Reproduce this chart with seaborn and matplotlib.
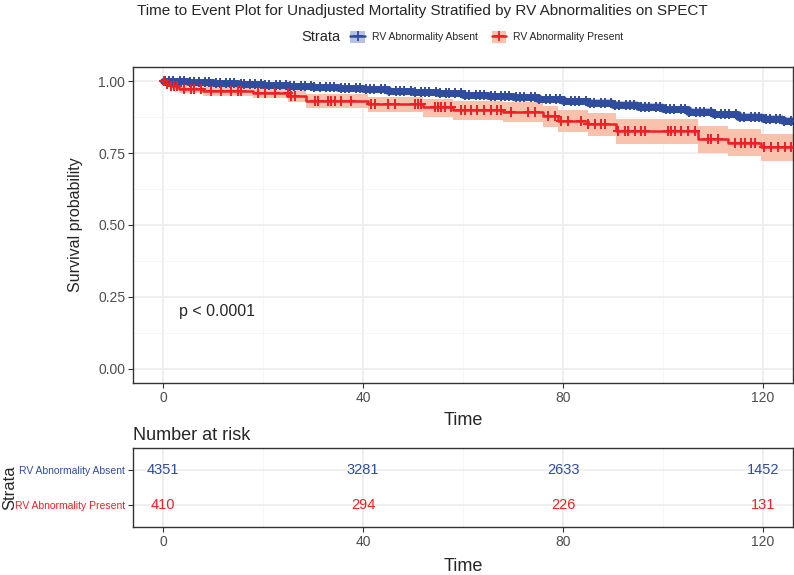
import numpy as np
import pandas as pd
import seaborn as sns
import matplotlib.pyplot as plt
from matplotlib.patches import Patch
from matplotlib.lines import Line2D
from matplotlib.ticker import MultipleLocator

# strata
groups = ['RV Abnormality Absent', 'RV Abnormality Present']
line_cols = ['#2F4C9E', '#EE1F25']
fill_cols = ['#B9C1E3', '#F9C2AC']

# RV abnormality absent: KM steps, 95% CI, censor times
absent_time = [0, 5, 10, 15, 20, 25, 30, 35, 40, 45, 50, 55, 60, 65, 70, 75,
               80, 85, 90, 95, 100, 105, 110, 115, 120, 124, 126]
absent_surv = [1.000, 0.996, 0.993, 0.990, 0.986, 0.983, 0.980, 0.976, 0.972,
               0.968, 0.963, 0.958, 0.954, 0.949, 0.944, 0.938, 0.933, 0.926,
               0.919, 0.911, 0.903, 0.894, 0.885, 0.876, 0.868, 0.863, 0.863]
absent_low = [1.000, 0.994, 0.990, 0.987, 0.982, 0.978, 0.975, 0.970, 0.966,
              0.961, 0.956, 0.950, 0.946, 0.940, 0.935, 0.928, 0.923, 0.915,
              0.908, 0.899, 0.891, 0.881, 0.872, 0.862, 0.854, 0.849, 0.849]
absent_high = [1.000, 0.998, 0.996, 0.993, 0.990, 0.988, 0.985, 0.982, 0.978,
               0.975, 0.970, 0.966, 0.962, 0.958, 0.953, 0.948, 0.943, 0.937,
               0.930, 0.923, 0.915, 0.907, 0.898, 0.890, 0.882, 0.877, 0.877]
absent_cens = [0.4, 1.3, 2.1, 3.4, 4.2, 5.5, 6.3, 7.1, 8.4, 9.2, 10.5, 11.3,
               12.6, 13.4, 14.1, 15.5, 16.2, 17.4, 18.3, 19.6, 20.4, 21.2,
               22.5, 23.3, 24.6, 25.4, 26.1, 27.5, 28.3, 29.6, 30.2, 31.4,
               32.5, 33.3, 34.1, 35.6, 36.4, 37.2, 38.5, 39.3, 40.6, 41.4,
               42.2, 43.5, 44.3, 45.1, 46.6, 47.4, 48.2, 49.5, 50.3, 51.6,
               52.4, 53.1, 54.5, 55.3, 56.6, 57.2, 58.4, 59.5, 60.3, 61.1,
               62.6, 63.4, 64.2, 65.5, 66.3, 67.6, 68.4, 69.2, 70.5, 71.3,
               72.1, 73.6, 74.4, 75.2, 76.5, 77.3, 78.6, 79.4, 80.2, 81.5,
               82.3, 83.1, 84.6, 85.4, 86.2, 87.5, 88.3, 89.6, 90.4, 91.2,
               92.5, 93.3, 94.1, 95.6, 96.4, 97.2, 98.5, 99.3, 100.6, 101.4,
               102.2, 103.5, 104.3, 105.1, 106.6, 107.4, 108.2, 109.5, 110.3,
               111.6, 112.4, 113.2, 114.5, 115.3, 116.1, 117.6, 118.4, 119.2,
               120.5, 121.3, 122.6, 123.4, 124.2, 125.5]

# RV abnormality present
present_time = [0, 0.6, 1.6, 3.2, 8, 18, 25, 28.5, 41, 52, 58, 68, 76, 79,
                85, 90.5, 107, 113, 119.5, 126]
present_surv = [1.000, 0.990, 0.983, 0.973, 0.967, 0.961, 0.949, 0.932, 0.921,
                0.909, 0.901, 0.894, 0.880, 0.862, 0.851, 0.828, 0.800, 0.787,
                0.770, 0.770]
present_low = [1.000, 0.980, 0.971, 0.958, 0.950, 0.942, 0.927, 0.906, 0.892,
               0.877, 0.866, 0.858, 0.842, 0.822, 0.810, 0.783, 0.752, 0.740,
               0.724, 0.724]
present_high = [1.000, 1.000, 0.996, 0.989, 0.984, 0.980, 0.970, 0.955, 0.947,
                0.938, 0.932, 0.927, 0.915, 0.899, 0.890, 0.870, 0.846, 0.835,
                0.818, 0.818]
present_cens = [0.3, 0.9, 1.6, 2.3, 2.9, 4.3, 5.6, 6.3, 7.6, 9.6, 11.6, 13.6,
                14.9, 15.6, 18.9, 20.3, 22.3, 24.9, 25.6, 26.3, 30.3, 30.9,
                32.9, 33.6, 34.3, 35.6, 37.6, 41.6, 42.3, 44.9, 46.3, 50.3,
                50.9, 51.6, 54.3, 54.9, 55.6, 56.3, 57.6, 59.6, 60.3, 61.5,
                62.8, 64.1, 65.5, 66.8, 67.6, 69.6, 73.0, 74.3, 77.0, 78.3,
                79.6, 81.0, 83.6, 85.0, 86.3, 87.6, 88.3, 90.9, 92.3, 93.0,
                94.3, 95.6, 96.3, 101.0, 101.6, 102.3, 103.6, 104.9, 106.3,
                108.9, 109.6, 110.9, 114.3, 115.6, 116.3, 117.6, 118.3, 120.2,
                121.6, 122.9, 124.3, 125.6]

# number at risk
risk_times = [0, 40, 80, 120]
risk_absent = [4351, 3281, 2633, 1452]
risk_present = [410, 294, 226, 131]

curves = [
    (absent_time, absent_surv, absent_low, absent_high, absent_cens),
    (present_time, present_surv, present_low, present_high, present_cens),
]

sns.set_style('white')
plt.rcParams['font.family'] = ['Liberation Sans', 'DejaVu Sans']

fig = plt.figure(figsize=(7.94, 5.75), dpi=100)
ax = fig.add_axes([0.1675, 0.334, 0.8313, 0.5495])
ax2 = fig.add_axes([0.1675, 0.0835, 0.8313, 0.1374])

border = '#333333'
tickc = '#4D4D4D'

for a in (ax, ax2):
    a.set_xlim(-6, 126)
    a.xaxis.set_major_locator(MultipleLocator(40))
    a.xaxis.set_minor_locator(MultipleLocator(20))
    a.grid(which='major', color='#EBEBEB', lw=1.1, zorder=0)
    a.grid(which='minor', color='#F5F5F5', lw=0.6, zorder=0)
    for s in a.spines.values():
        s.set_color(border)
        s.set_linewidth(1.0)
    a.tick_params(which='major', direction='out', length=3.5, width=0.8,
                  color=border, labelcolor=tickc, labelsize=10, bottom=True,
                  left=True, pad=2)
    a.tick_params(which='minor', length=0)
    a.set_axisbelow(True)

# survival curves
line_w = [5.0, 1.8]
for i, (t, s, lo, hi, cens) in enumerate(curves):
    t = np.array(t)
    s = np.array(s)
    ax.fill_between(t, lo, hi, step='post', color=fill_cols[i], lw=0, zorder=2)
    sns.lineplot(x=t, y=s, drawstyle='steps-post', color=line_cols[i],
                 lw=line_w[i], estimator=None, ax=ax, zorder=3)
    idx = np.searchsorted(t, cens, side='right') - 1
    sns.scatterplot(x=cens, y=s[idx], marker='+', s=55, color=line_cols[i],
                    linewidth=1.4, ax=ax, zorder=4, legend=False)

ax.set_ylim(-0.05, 1.05)
ax.yaxis.set_major_locator(MultipleLocator(0.25))
ax.yaxis.set_minor_locator(MultipleLocator(0.125))
ax.yaxis.set_major_formatter(plt.FormatStrFormatter('%.2f'))
ax.set_ylabel('Survival probability', fontsize=11.5)
ax.yaxis.set_label_coords(-0.076, 0.5)
ax.set_xlabel('Time', fontsize=13)
ax.xaxis.set_label_coords(0.5, -0.092)
ax.text(3.2, 0.2, 'p < 0.0001', fontsize=11.5, va='center', ha='left')

fig.text(422 / 794, 1 - 11 / 575,
         'Time to Event Plot for Unadjusted Mortality Stratified by RV Abnormalities on SPECT',
         ha='center', va='center', fontsize=11)

# legend
fig.text(301 / 794, 1 - 37 / 575, 'Strata', ha='left', va='center', fontsize=10.5)
handles = [(Patch(facecolor=fill_cols[i], edgecolor='none'),
            Line2D([], [], color=line_cols[i], lw=1.8, marker='+', ms=7, mew=1.3))
           for i in range(2)]
fig.legend(handles, groups, loc='center left',
           bbox_to_anchor=(345 / 794, 1 - 37 / 575), ncol=2, frameon=False,
           fontsize=7.5, handlelength=1.4, handleheight=1.4, handletextpad=0.7,
           columnspacing=1.3, borderpad=0)

# risk table
rows = [1, 0]
for i, vals in enumerate([risk_absent, risk_present]):
    for tt, v in zip(risk_times, vals):
        ax2.text(tt, rows[i], str(v), color=line_cols[i], fontsize=10.5,
                 ha='center', va='center')
ax2.set_ylim(-0.6, 1.6)
ax2.set_yticks(rows)
ax2.set_yticklabels(groups, fontsize=7.5)
for lab, c in zip(ax2.get_yticklabels(), line_cols):
    lab.set_color(c)
ax2.set_ylabel('Strata', fontsize=12)
ax2.yaxis.set_label_coords(-0.176, 0.5)
ax2.set_xlabel('Time', fontsize=13)
ax2.xaxis.set_label_coords(0.5, -0.39)
fig.text(133 / 794, 1 - 436 / 575, 'Number at risk', ha='left', va='center',
         fontsize=13)

fig.savefig('out.png', dpi=100)
